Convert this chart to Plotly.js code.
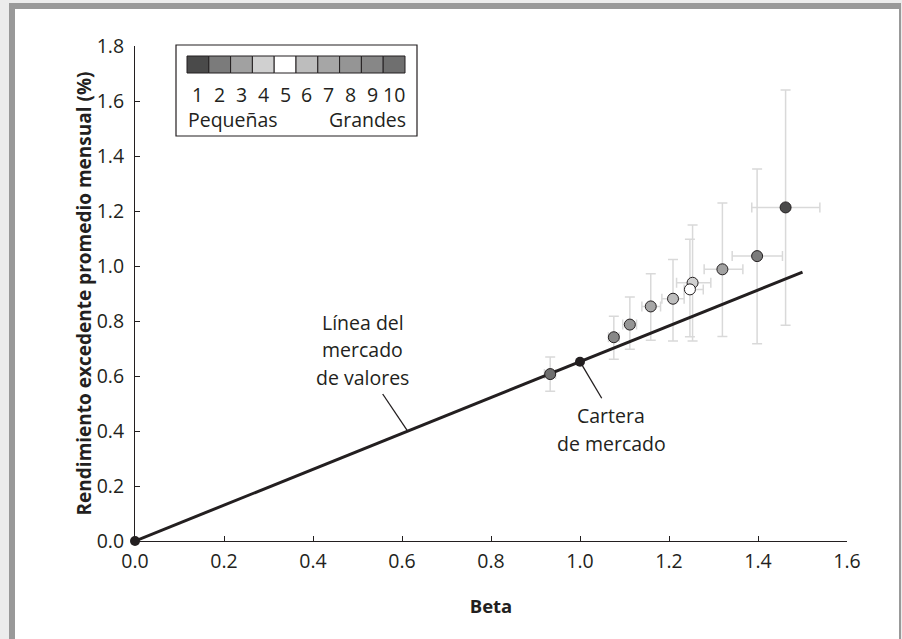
<!DOCTYPE html>
<html>
<head>
<meta charset="utf-8">
<script src="https://cdn.plot.ly/plotly-3.0.1.min.js"></script>
<style>
  html, body { margin:0; padding:0; background:#ececec; width:902px; height:639px; overflow:hidden; }
  #frame { position:fixed; left:9px; top:3px; width:884px; height:630px; background:#fff;
           border-left:6px solid #999; border-top:6px solid #999; border-right:2px solid #999; border-bottom:0; }
  #chart { position:fixed; left:0; top:0; width:902px; height:639px; }
</style>
</head>
<body>
<div id="frame"></div>
<div id="chart"></div>
<script>
// Decile portfolios 1..10 (small -> large)
const deciles = ["1","2","3","4","5","6","7","8","9","10"];
const betas   = [1.462, 1.398, 1.320, 1.253, 1.247, 1.209, 1.159, 1.112, 1.076, 0.933];
const returns = [1.213, 1.036, 0.988, 0.939, 0.915, 0.881, 0.853, 0.787, 0.741, 0.607];
const retHigh = [1.640, 1.353, 1.229, 1.149, 1.097, 1.024, 0.972, 0.887, 0.817, 0.669];
const retLow  = [0.785, 0.717, 0.744, 0.727, 0.743, 0.727, 0.730, 0.697, 0.661, 0.545];
const betaLow = [1.386, 1.342, 1.279, 1.217, 1.234, 1.184, 1.139, 1.096, 1.064, 0.920];
const betaHigh= [1.539, 1.455, 1.366, 1.294, 1.277, 1.234, 1.181, 1.127, 1.088, 0.945];
const decileColors = ["#4a4a4a","#7b7b7b","#a1a1a1","#d0d0d0","#ffffff","#bdbdbd","#a6a6a6","#959595","#878787","#6f6f6f"];

const marketBeta = 1.0;
const marketRet = 0.652;
const smlBeta = [0, 1.5];
const smlRet = smlBeta.map(b => b * marketRet / marketBeta);

const xTicks = [0, 0.2, 0.4, 0.6, 0.8, 1.0, 1.2, 1.4, 1.6];
const yTicks = [0, 0.2, 0.4, 0.6, 0.8, 1.0, 1.2, 1.4, 1.6, 1.8];

const smlLabelLines = ["Línea del", "mercado", "de valores"];
const marketLabelLines = ["Cartera", "de mercado"];

const FONT = "Open Sans, Noto Sans, sans-serif";
const INK = "#231f20";
const FS = 19.5;

const traces = [
  { // error bars (drawn first, behind the line)
    x: betas, y: returns, type: "scatter", mode: "markers",
    marker: {size: 1, color: "rgba(0,0,0,0)"},
    error_y: {type: "data", symmetric: false,
      array: retHigh.map((h, i) => h - returns[i]),
      arrayminus: retLow.map((l, i) => returns[i] - l),
      color: "#d9d9d9", thickness: 1.5, width: 5},
    error_x: {type: "data", symmetric: false,
      array: betaHigh.map((h, i) => h - betas[i]),
      arrayminus: betaLow.map((l, i) => betas[i] - l),
      color: "#d9d9d9", thickness: 1.5, width: 5},
    hoverinfo: "skip", showlegend: false
  },
  { // security market line
    x: smlBeta, y: smlRet, type: "scatter", mode: "lines",
    line: {color: INK, width: 3}, showlegend: false, cliponaxis: false
  },
  { // decile portfolios
    x: betas, y: returns, text: deciles, type: "scatter", mode: "markers",
    marker: {size: 11, color: decileColors, line: {color: INK, width: 1}},
    showlegend: false, cliponaxis: false
  },
  { // origin and market portfolio
    x: [0, marketBeta], y: [0, marketRet], type: "scatter", mode: "markers",
    marker: {size: 10, color: INK}, showlegend: false, cliponaxis: false
  }
];

// legend box built from the decile colours
const shapes = [];
const legX0 = 187, legW = 21.8, legY0 = 56, legH = 17;
const W = 902, H = 639, L = 135, R = 55, T = 46, B = 98;
const pw = W - L - R, ph = H - T - B;
const px = v => (v - L) / pw;
const py = v => 1 - (v - T) / ph;
shapes.push({type:"rect", xref:"paper", yref:"paper", x0:px(176), x1:px(417), y0:py(136), y1:py(45),
  line:{color:INK, width:1.2}, fillcolor:"#fff", layer:"above"});
const annotations = [];
decileColors.forEach((c, i) => {
  shapes.push({type:"rect", xref:"paper", yref:"paper",
    x0:px(legX0 + i*legW), x1:px(legX0 + (i+1)*legW), y0:py(legY0+legH), y1:py(legY0),
    line:{color:INK, width:1}, fillcolor:c, layer:"above"});
  annotations.push({xref:"paper", yref:"paper", x:px(legX0 + (i+0.5)*legW), y:py(95),
    text: deciles[i], showarrow:false, font:{family:FONT, size:FS, color:INK}, xanchor:"center", yanchor:"middle"});
});
annotations.push({xref:"paper", yref:"paper", x:px(186), y:py(119), text:"Pequeñas", showarrow:false,
  font:{family:FONT, size:FS, color:INK}, xanchor:"left", yanchor:"middle"});
annotations.push({xref:"paper", yref:"paper", x:px(408), y:py(119), text:"Grandes", showarrow:false,
  font:{family:FONT, size:FS, color:INK}, xanchor:"right", yanchor:"middle"});

// labels for the line and market portfolio (one annotation per text line)
const smlLabelY = [0.796, 0.698, 0.593];
smlLabelLines.forEach((t, i) => annotations.push({x:0.512, y:smlLabelY[i], text:t, showarrow:false,
  font:{family:FONT, size:FS, color:INK}, xanchor:"center", yanchor:"middle"}));
const marketLabelY = [0.458, 0.356];
marketLabelLines.forEach((t, i) => annotations.push({x:1.070, y:marketLabelY[i], text:t, showarrow:false,
  font:{family:FONT, size:FS, color:INK}, xanchor:"center", yanchor:"middle"}));
shapes.push({type:"line", x0:0.6127, y0:0.3995, x1:0.5566, y1:0.5345, line:{color:INK, width:1.3}});
shapes.push({type:"line", x0:marketBeta, y0:marketRet, x1:1.0488, y1:0.519, line:{color:INK, width:1.3}});

const layout = {
  width: W, height: H,
  margin: {l: L, r: R, t: T, b: B},
  paper_bgcolor: "rgba(0,0,0,0)", plot_bgcolor: "rgba(0,0,0,0)",
  font: {family: FONT, size: FS, color: INK},
  xaxis: {range: [0, 1.6], tickvals: xTicks, tickformat: ".1f", ticks: "inside", ticklen: 5,
    tickcolor: INK, showline: true, linecolor: INK, linewidth: 1, showgrid: false, zeroline: false,
    ticklabelstandoff: 3,
    tickfont: {family: FONT, size: FS, color: INK},
    title: {text: "<b>Beta</b>", font: {family: FONT, size: 18.5, color: INK}, standoff: 26}},
  yaxis: {range: [0, 1.8], tickvals: yTicks, tickformat: ".1f", ticks: "inside", ticklen: 5,
    tickcolor: INK, showline: true, linecolor: INK, linewidth: 1, showgrid: false, zeroline: false,
    ticklabelstandoff: 6,
    tickfont: {family: FONT, size: FS, color: INK},
    title: {text: "<b>Rendimiento excedente promedio mensual (%)</b>", font: {family: FONT, size: 19, color: INK}, standoff: 0}},
  shapes: shapes,
  annotations: annotations,
  showlegend: false
};

Plotly.newPlot("chart", traces, layout, {displayModeBar: false, staticPlot: true});
</script>
</body>
</html>
